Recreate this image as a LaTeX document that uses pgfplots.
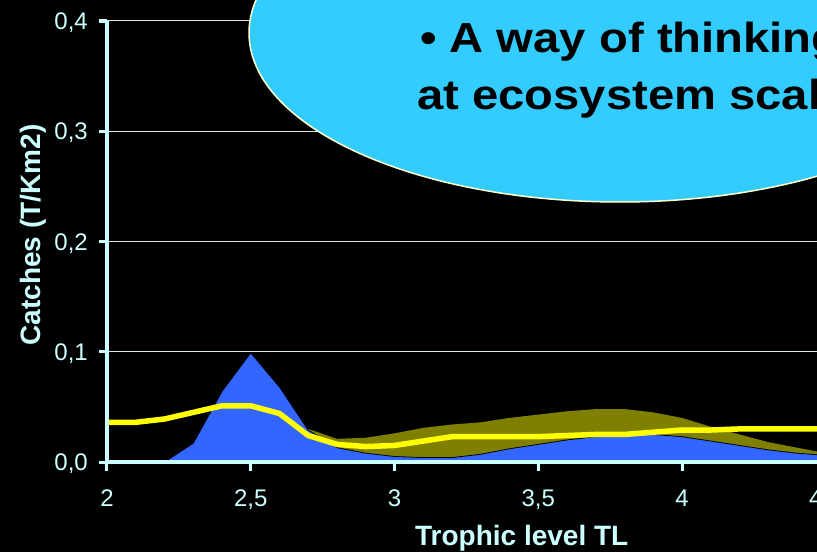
\documentclass[border=0pt]{standalone}
\usepackage{pgfplots}
\pgfplotsset{compat=1.18}
\usepackage{graphicx}
\usepackage{fontspec}
\setmainfont{Liberation Sans}
\definecolor{tickc}{HTML}{CCFFFF}
\definecolor{blueC}{HTML}{3366FF}
\definecolor{oliveC}{HTML}{808000}
\definecolor{yellowC}{HTML}{FFFF00}
\definecolor{ellC}{HTML}{33CCFF}
\definecolor{ellB}{HTML}{FFFFCC}
\definecolor{gridC}{HTML}{D8E8E8}
\pgfplotstableread{
x y
2.0 0
2.1 0
2.2 0
2.3 0.017
2.4 0.064
2.5 0.099
2.6 0.068
2.7 0.029
2.8 0.013
2.9 0.008
3.0 0.005
3.1 0.004
3.2 0.004
3.3 0.007
3.4 0.012
3.5 0.016
3.6 0.020
3.7 0.023
3.8 0.025
3.9 0.025
4.0 0.023
4.1 0.019
4.2 0.015
4.3 0.011
4.4 0.008
4.5 0.006
}\bluedata
\pgfplotstableread{
x y
2.7 0.030
2.8 0.021
2.9 0.022
3.0 0.026
3.1 0.031
3.2 0.034
3.3 0.036
3.4 0.040
3.5 0.043
3.6 0.046
3.7 0.048
3.8 0.048
3.9 0.045
4.0 0.040
4.1 0.032
4.2 0.025
4.3 0.018
4.4 0.013
4.5 0.008
}\olivedata
\pgfplotstableread{
x y
2.0 0.036
2.1 0.036
2.2 0.039
2.3 0.045
2.4 0.051
2.5 0.051
2.6 0.044
2.7 0.024
2.8 0.016
2.9 0.014
3.0 0.015
3.1 0.019
3.2 0.023
3.3 0.023
3.4 0.023
3.5 0.023
3.6 0.024
3.7 0.025
3.8 0.025
3.9 0.027
4.0 0.029
4.1 0.029
4.2 0.030
4.3 0.030
4.4 0.030
4.5 0.030
}\yellowdata
\begin{document}
\begin{tikzpicture}
\fill[black] (-107pt,-90pt) rectangle (710pt,462pt);
\begin{axis}[
  at={(0pt,0pt)}, anchor=south west,
  scale only axis, width=718.75pt, height=441pt,
  xmin=2, xmax=4.5, ymin=0, ymax=0.4,
  axis x line=bottom, axis y line=left,
  axis on top, clip=false,
  axis line style={-, draw=tickc, line width=3.5pt},
  xtick={2,2.5,3,3.5,4,4.5},
  xticklabels={2,{2,5},3,{3,5},4,{4,5}},
  ytick={0,0.1,0.2,0.3,0.4},
  yticklabels={{0,0},{0,1},{0,2},{0,3},{0,4}},
  ymajorgrids,
  grid style={draw=gridC, line width=1pt},
  tickwidth=0pt,
  ticklabel style={font=\fontsize{24}{28}\selectfont, text=tickc, inner sep=0pt},
  xticklabel style={anchor=base, yshift=-44pt},
  yticklabel style={anchor=base east, xshift=-19pt, yshift=-8.5pt},
  xlabel={Trophic level TL},
  ylabel={Catches (T/Km2)},
  label style={font=\fontsize{28}{32}\selectfont\bfseries, text=tickc, inner sep=0pt},
  xlabel style={at={(axis description cs:0.577,-0.19)}, anchor=base},
  ylabel style={at={(axis description cs:-0.0932,0.515)}, anchor=base},
]
\addplot[draw=none, fill=oliveC] table {\olivedata} \closedcycle;
\addplot[draw=black, line width=0.8pt, fill=blueC] table {\bluedata} \closedcycle;
\addplot[color=yellowC, line width=5.5pt, line join=round] table {\yellowdata};
\pgfplotsinvokeforeach{2,2.5,3,3.5,4,4.5}{
  \draw[tickc, line width=3pt] (axis cs:#1,0) -- ++(0pt,-9pt);
}
\pgfplotsinvokeforeach{0,0.1,0.2,0.3,0.4}{
  \draw[tickc, line width=3pt] (axis cs:2,#1) -- ++(-8pt,0pt);
}
\end{axis}
\fill[ellC, draw=ellB, line width=1.5pt] (513pt,429pt) ellipse [x radius=371pt, y radius=169pt];
\node[anchor=base west, inner sep=0pt, font=\fontsize{40}{48}\selectfont\bfseries] at (313pt,409pt) {\scalebox{1.18}[1.05]{• A way of thinking}};
\node[anchor=base west, inner sep=0pt, font=\fontsize{40}{48}\selectfont\bfseries] at (310pt,352pt) {\scalebox{1.18}[1.05]{at ecosystem scale}};
\pgfresetboundingbox
\path[use as bounding box] (-107pt,-90pt) rectangle (710pt,462pt);
\end{tikzpicture}
\end{document}
